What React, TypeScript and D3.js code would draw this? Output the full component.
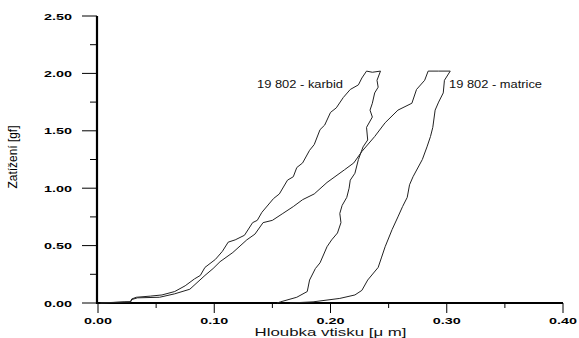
import { useEffect, useRef } from "react";
import * as d3 from "d3";

// depth [um], load [gf]
const karbidLoading: [number, number][] = [
  [0.002, 0.0], [0.023, 0.01], [0.028, 0.01], [0.029, 0.035], [0.033, 0.05],
  [0.045, 0.06], [0.055, 0.07], [0.066, 0.1], [0.075, 0.15], [0.083, 0.21],
  [0.088, 0.24], [0.092, 0.31], [0.101, 0.38], [0.107, 0.45], [0.112, 0.53],
  [0.118, 0.55], [0.126, 0.59], [0.133, 0.7], [0.137, 0.72], [0.141, 0.79],
  [0.151, 0.91], [0.156, 0.95], [0.163, 1.07], [0.168, 1.1], [0.171, 1.18],
  [0.176, 1.22], [0.182, 1.33], [0.186, 1.38], [0.191, 1.51], [0.195, 1.55],
  [0.2, 1.66], [0.205, 1.7], [0.211, 1.79], [0.217, 1.86], [0.224, 1.9],
  [0.227, 1.96], [0.231, 2.02], [0.236, 2.01], [0.243, 2.02],
];

const karbidUnloading: [number, number][] = [
  [0.243, 2.02], [0.24, 1.94], [0.241, 1.88], [0.238, 1.83], [0.236, 1.74],
  [0.234, 1.68], [0.236, 1.62], [0.231, 1.53], [0.232, 1.42], [0.228, 1.36],
  [0.224, 1.25], [0.221, 1.13], [0.217, 1.07], [0.216, 1.0], [0.214, 0.92],
  [0.21, 0.85], [0.208, 0.78], [0.209, 0.7], [0.206, 0.61], [0.201, 0.55],
  [0.197, 0.49], [0.191, 0.35], [0.187, 0.3], [0.182, 0.2], [0.18, 0.1],
  [0.171, 0.05], [0.157, 0.01], [0.154, 0.0],
];

const matriceLoading: [number, number][] = [
  [0.002, 0.0], [0.028, 0.01], [0.029, 0.03], [0.034, 0.045], [0.053, 0.05],
  [0.066, 0.08], [0.079, 0.12], [0.092, 0.24], [0.099, 0.3], [0.105, 0.36],
  [0.116, 0.44], [0.128, 0.55], [0.135, 0.6], [0.142, 0.7], [0.15, 0.72],
  [0.159, 0.78], [0.168, 0.84], [0.176, 0.9], [0.186, 0.95], [0.197, 1.05],
  [0.212, 1.16], [0.22, 1.22], [0.227, 1.32], [0.238, 1.45], [0.247, 1.57],
  [0.258, 1.68], [0.27, 1.74], [0.274, 1.86], [0.281, 1.94], [0.284, 2.02],
  [0.293, 2.02], [0.303, 2.02],
];

const matriceUnloading: [number, number][] = [
  [0.303, 2.02], [0.298, 1.94], [0.297, 1.83], [0.293, 1.75], [0.29, 1.68],
  [0.288, 1.53], [0.286, 1.45], [0.283, 1.36], [0.279, 1.25], [0.271, 1.1],
  [0.268, 1.03], [0.266, 0.92], [0.262, 0.84], [0.258, 0.75], [0.253, 0.64],
  [0.247, 0.49], [0.244, 0.4], [0.241, 0.31], [0.232, 0.2], [0.227, 0.11],
  [0.221, 0.07], [0.208, 0.04], [0.185, 0.01], [0.165, 0.0],
];

const xTicks = [0, 0.1, 0.2, 0.3, 0.4];
const xMinor = [0.05, 0.15, 0.25, 0.35];
const yTicks = [0, 0.5, 1.0, 1.5, 2.0, 2.5];
const yMinor = [0.25, 0.75, 1.25, 1.75, 2.25];

const curves = [karbidLoading, karbidUnloading, matriceLoading, matriceUnloading];

export default function App() {
  const ref = useRef<SVGSVGElement>(null);

  useEffect(() => {
    const width = 579;
    const height = 338;
    const svg = d3.select(ref.current);
    svg.selectAll("*").remove();

    const x = d3.scaleLinear().domain([0, 0.4]).range([98, 563]);
    const y = d3.scaleLinear().domain([0, 2.5]).range([303, 16]);

    svg.append("rect").attr("width", width).attr("height", height).attr("fill", "#fff");

    const font = "Liberation Sans, Arial, sans-serif";

    // axes
    svg.append("line")
      .attr("x1", x(0) - 1).attr("x2", x(0) - 1)
      .attr("y1", y(2.5)).attr("y2", y(0) + 1)
      .attr("stroke", "#000").attr("stroke-width", 2.2);
    svg.append("line")
      .attr("x1", x(0) - 1).attr("x2", x(0.4))
      .attr("y1", y(0)).attr("y2", y(0))
      .attr("stroke", "#000").attr("stroke-width", 1.8);

    svg.selectAll(".ytick").data(yTicks).enter().append("line")
      .attr("x1", x(0) - 16).attr("x2", x(0) - 1)
      .attr("y1", (d) => y(d)).attr("y2", (d) => y(d))
      .attr("stroke", "#000").attr("stroke-width", 1);
    svg.selectAll(".yminor").data(yMinor).enter().append("line")
      .attr("x1", x(0) - 8).attr("x2", x(0) - 1)
      .attr("y1", (d) => y(d)).attr("y2", (d) => y(d))
      .attr("stroke", "#000").attr("stroke-width", 1);
    svg.selectAll(".xtick").data(xTicks).enter().append("line")
      .attr("x1", (d) => x(d)).attr("x2", (d) => x(d))
      .attr("y1", y(0)).attr("y2", y(0) + 10)
      .attr("stroke", "#000").attr("stroke-width", 1);
    svg.selectAll(".xminor").data(xMinor).enter().append("line")
      .attr("x1", (d) => x(d)).attr("x2", (d) => x(d))
      .attr("y1", y(0)).attr("y2", y(0) + 5)
      .attr("stroke", "#000").attr("stroke-width", 1);

    svg.selectAll(".ylab").data(yTicks).enter().append("text")
      .attr("x", 72).attr("y", (d) => y(d) + 3.5)
      .attr("text-anchor", "end")
      .attr("font-family", font).attr("font-size", 9).attr("font-weight", "bold")
      .attr("textLength", 28).attr("lengthAdjust", "spacingAndGlyphs")
      .attr("fill", "#000")
      .text((d) => d3.format(".2f")(d));

    svg.selectAll(".xlab").data(xTicks).enter().append("text")
      .attr("x", (d) => x(d)).attr("y", 324)
      .attr("text-anchor", "middle")
      .attr("font-family", font).attr("font-size", 8.5).attr("font-weight", "bold")
      .attr("textLength", 28).attr("lengthAdjust", "spacingAndGlyphs")
      .attr("fill", "#000")
      .text((d) => d3.format(".2f")(d));

    svg.append("text")
      .attr("x", x(0.2)).attr("y", 336)
      .attr("text-anchor", "middle")
      .attr("font-family", font).attr("font-size", 11.5)
      .attr("textLength", 152).attr("lengthAdjust", "spacingAndGlyphs")
      .attr("fill", "#111")
      .text("Hloubka vtisku [\u03bc m]");

    svg.append("text")
      .attr("transform", "translate(17,157) rotate(-90)")
      .attr("text-anchor", "middle")
      .attr("font-family", font).attr("font-size", 12)
      .attr("textLength", 63).attr("lengthAdjust", "spacingAndGlyphs")
      .attr("fill", "#000")
      .text("Zatížení [gf]");

    // curves
    const line = d3.line<[number, number]>()
      .x((d) => x(d[0]))
      .y((d) => y(d[1]));

    svg.selectAll(".curve").data(curves).enter().append("path")
      .attr("d", (d) => line(d))
      .attr("fill", "none")
      .attr("stroke", "#222")
      .attr("stroke-width", 1);

    svg.append("text")
      .attr("x", 257).attr("y", 88)
      .attr("font-family", font).attr("font-size", 10)
      .attr("textLength", 86).attr("lengthAdjust", "spacingAndGlyphs")
      .attr("fill", "#111")
      .text("19 802 - karbid");

    svg.append("text")
      .attr("x", 449).attr("y", 88)
      .attr("font-family", font).attr("font-size", 10)
      .attr("textLength", 93).attr("lengthAdjust", "spacingAndGlyphs")
      .attr("fill", "#111")
      .text("19 802 - matrice");
  }, []);

  return (
    <svg
      ref={ref}
      width={579}
      height={338}
      style={{ position: "absolute", left: 0, top: 0, display: "block" }}
    />
  );
}
